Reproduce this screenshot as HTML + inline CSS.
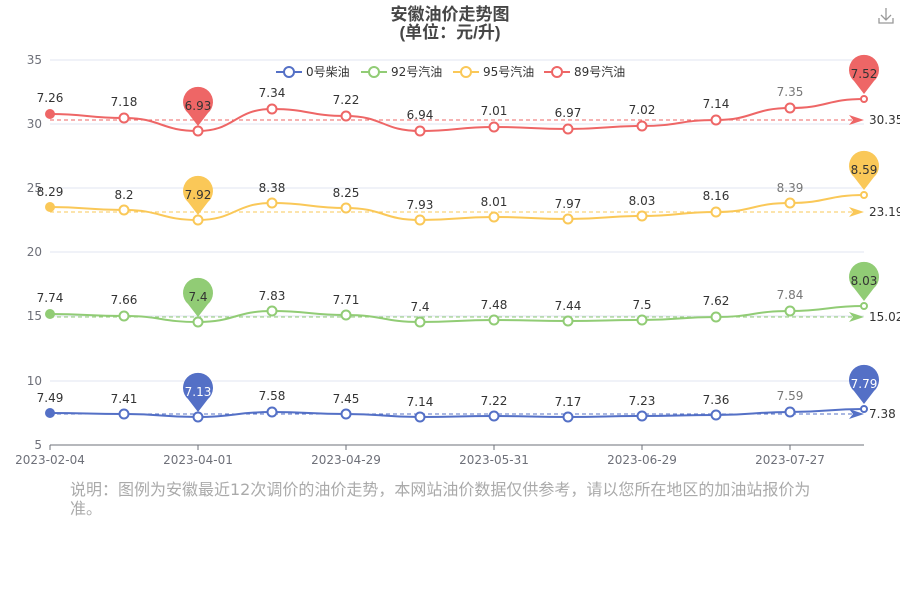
<!DOCTYPE html><html><head><meta charset="utf-8"><style>body{margin:0;background:#fff}svg{display:block;font-family:"DejaVu Sans","Noto Sans CJK SC",sans-serif}</style></head><body>
<svg width="900" height="600" viewBox="0 0 900 600">
<text x="450" y="20" text-anchor="middle" font-size="17" font-weight="bold" fill="#464646" font-family="Liberation Sans,Noto Sans CJK SC,sans-serif">安徽油价走势图</text>
<text x="450" y="38" text-anchor="middle" font-size="17" font-weight="bold" fill="#464646" font-family="Liberation Sans,Noto Sans CJK SC,sans-serif">(单位：元/升)</text>
<g stroke="#999" fill="none" stroke-width="1.3"><path d="M886 8v12M881 15l5 5 5-5M879 18v5h14v-5"/></g>
<g stroke="#e0e6f1" stroke-width="1"><line x1="50" y1="60" x2="864" y2="60"/><line x1="50" y1="124" x2="864" y2="124"/><line x1="50" y1="188" x2="864" y2="188"/><line x1="50" y1="252" x2="864" y2="252"/><line x1="50" y1="316" x2="864" y2="316"/><line x1="50" y1="381" x2="864" y2="381"/></g>
<line x1="50" y1="445" x2="864" y2="445" stroke="#6e7079"/>
<g stroke="#6e7079"><line x1="50" y1="445" x2="50" y2="450"/><line x1="198" y1="445" x2="198" y2="450"/><line x1="346" y1="445" x2="346" y2="450"/><line x1="494" y1="445" x2="494" y2="450"/><line x1="642" y1="445" x2="642" y2="450"/><line x1="790" y1="445" x2="790" y2="450"/></g>
<g font-size="12" fill="#6e7079" text-anchor="end"><text x="42" y="64">35</text><text x="42" y="128">30</text><text x="42" y="192">25</text><text x="42" y="256">20</text><text x="42" y="320">15</text><text x="42" y="385">10</text><text x="42" y="449">5</text></g>
<g font-size="12" fill="#6e7079" text-anchor="middle"><text x="50" y="464">2023-02-04</text><text x="198" y="464">2023-04-01</text><text x="346" y="464">2023-04-29</text><text x="494" y="464">2023-05-31</text><text x="642" y="464">2023-06-29</text><text x="790" y="464">2023-07-27</text></g>
<g font-size="12" fill="#333"><g stroke="#5470c6" stroke-width="2"><line x1="276" y1="72" x2="302" y2="72"/><circle cx="289" cy="72" r="5" fill="#fff"/></g><text x="306" y="76">0号柴油</text>
<g stroke="#91cc75" stroke-width="2"><line x1="361" y1="72" x2="387" y2="72"/><circle cx="374" cy="72" r="5" fill="#fff"/></g><text x="391" y="76">92号汽油</text>
<g stroke="#fac858" stroke-width="2"><line x1="453" y1="72" x2="479" y2="72"/><circle cx="466" cy="72" r="5" fill="#fff"/></g><text x="483" y="76">95号汽油</text>
<g stroke="#ee6666" stroke-width="2"><line x1="544" y1="72" x2="570" y2="72"/><circle cx="557" cy="72" r="5" fill="#fff"/></g><text x="574" y="76">89号汽油</text></g>

<!-- RED -->
<g>
<path d="M50 114 C87 114 87 118 124 118 C161 118 161 131 198 131 C235 131 235 109 272 109 C309 109 309 116 346 116 C383 116 383 131 420 131 C457 131 457 127 494 127 C531 127 531 129 568 129 C605 129 605 126 642 126 C679 126 679 120 716 120 C753 120 753 108 790 108 C827 108 827 99 864 99" fill="none" stroke="#ee6666" stroke-width="2"/>
<line x1="50" y1="120" x2="852" y2="120" stroke="#ee6666" stroke-dasharray="4 3"/>
<path d="M849 115L864 120L849 125L853 120Z" fill="#ee6666"/>
<text x="869" y="124" font-size="12" fill="#333">30.35</text>
<g fill="#fff" stroke="#ee6666" stroke-width="2"><circle cx="50" cy="114" r="4" fill="#ee6666"/><circle cx="124" cy="118" r="4.5"/><circle cx="198" cy="131" r="4.5"/><circle cx="272" cy="109" r="4.5"/><circle cx="346" cy="116" r="4.5"/><circle cx="420" cy="131" r="4.5"/><circle cx="494" cy="127" r="4.5"/><circle cx="568" cy="129" r="4.5"/><circle cx="642" cy="126" r="4.5"/><circle cx="716" cy="120" r="4.5"/><circle cx="790" cy="108" r="4.5"/><circle cx="864" cy="99" r="3"/></g>
<g font-size="12" text-anchor="middle" fill="#333"><text x="50" y="102">7.26</text><text x="124" y="106">7.18</text><text x="272" y="97">7.34</text><text x="346" y="104">7.22</text><text x="420" y="119">6.94</text><text x="494" y="115">7.01</text><text x="568" y="117">6.97</text><text x="642" y="114">7.02</text><text x="716" y="108">7.14</text><text x="790" y="96" fill="#777">7.35</text></g>
<path d="M198 126L188 113A15 15 0 1 1 208 113Z" fill="#ee6666"/><text x="198" y="110" font-size="12" text-anchor="middle" fill="#333">6.93</text>
<path d="M864 94L854 81A15 15 0 1 1 874 81Z" fill="#ee6666"/><text x="864" y="78" font-size="12" text-anchor="middle" fill="#333">7.52</text>
</g>

<!-- YELLOW -->
<g>
<path d="M50 207 C87 207 87 210 124 210 C161 210 161 220 198 220 C235 220 235 203 272 203 C309 203 309 208 346 208 C383 208 383 220 420 220 C457 220 457 217 494 217 C531 217 531 219 568 219 C605 219 605 216 642 216 C679 216 679 212 716 212 C753 212 753 203 790 203 C827 203 827 195 864 195" fill="none" stroke="#fac858" stroke-width="2"/>
<line x1="50" y1="212" x2="852" y2="212" stroke="#fac858" stroke-dasharray="4 3"/>
<path d="M849 207L864 212L849 217L853 212Z" fill="#fac858"/>
<text x="869" y="216" font-size="12" fill="#333">23.19</text>
<g fill="#fff" stroke="#fac858" stroke-width="2"><circle cx="50" cy="207" r="4" fill="#fac858"/><circle cx="124" cy="210" r="4.5"/><circle cx="198" cy="220" r="4.5"/><circle cx="272" cy="203" r="4.5"/><circle cx="346" cy="208" r="4.5"/><circle cx="420" cy="220" r="4.5"/><circle cx="494" cy="217" r="4.5"/><circle cx="568" cy="219" r="4.5"/><circle cx="642" cy="216" r="4.5"/><circle cx="716" cy="212" r="4.5"/><circle cx="790" cy="203" r="4.5"/><circle cx="864" cy="195" r="3"/></g>
<g font-size="12" text-anchor="middle" fill="#333"><text x="50" y="196">8.29</text><text x="124" y="199">8.2</text><text x="272" y="192">8.38</text><text x="346" y="197">8.25</text><text x="420" y="209">7.93</text><text x="494" y="206">8.01</text><text x="568" y="208">7.97</text><text x="642" y="205">8.03</text><text x="716" y="200">8.16</text><text x="790" y="192" fill="#777">8.39</text></g>
<path d="M198 215L188 202A15 15 0 1 1 208 202Z" fill="#fac858"/><text x="198" y="199" font-size="12" text-anchor="middle" fill="#333">7.92</text>
<path d="M864 190L854 177A15 15 0 1 1 874 177Z" fill="#fac858"/><text x="864" y="174" font-size="12" text-anchor="middle" fill="#333">8.59</text>
</g>

<!-- GREEN -->
<g>
<path d="M50 314 C87 314 87 316 124 316 C161 316 161 322 198 322 C235 322 235 311 272 311 C309 311 309 315 346 315 C383 315 383 322 420 322 C457 322 457 320 494 320 C531 320 531 321 568 321 C605 321 605 320 642 320 C679 320 679 317 716 317 C753 317 753 311 790 311 C827 311 827 306 864 306" fill="none" stroke="#91cc75" stroke-width="2"/>
<line x1="50" y1="317" x2="852" y2="317" stroke="#91cc75" stroke-dasharray="4 3"/>
<path d="M849 312L864 317L849 322L853 317Z" fill="#91cc75"/>
<text x="869" y="321" font-size="12" fill="#333">15.02</text>
<g fill="#fff" stroke="#91cc75" stroke-width="2"><circle cx="50" cy="314" r="4" fill="#91cc75"/><circle cx="124" cy="316" r="4.5"/><circle cx="198" cy="322" r="4.5"/><circle cx="272" cy="311" r="4.5"/><circle cx="346" cy="315" r="4.5"/><circle cx="420" cy="322" r="4.5"/><circle cx="494" cy="320" r="4.5"/><circle cx="568" cy="321" r="4.5"/><circle cx="642" cy="320" r="4.5"/><circle cx="716" cy="317" r="4.5"/><circle cx="790" cy="311" r="4.5"/><circle cx="864" cy="306" r="3"/></g>
<g font-size="12" text-anchor="middle" fill="#333"><text x="50" y="302">7.74</text><text x="124" y="304">7.66</text><text x="272" y="300">7.83</text><text x="346" y="304">7.71</text><text x="420" y="311">7.4</text><text x="494" y="309">7.48</text><text x="568" y="310">7.44</text><text x="642" y="309">7.5</text><text x="716" y="305">7.62</text><text x="790" y="299" fill="#777">7.84</text></g>
<path d="M198 317L188 304A15 15 0 1 1 208 304Z" fill="#91cc75"/><text x="198" y="301" font-size="12" text-anchor="middle" fill="#333">7.4</text>
<path d="M864 301L854 288A15 15 0 1 1 874 288Z" fill="#91cc75"/><text x="864" y="285" font-size="12" text-anchor="middle" fill="#333">8.03</text>
</g>

<!-- BLUE -->
<g>
<path d="M50 413 C87 413 87 414 124 414 C161 414 161 417 198 417 C235 417 235 412 272 412 C309 412 309 414 346 414 C383 414 383 417 420 417 C457 417 457 416 494 416 C531 416 531 417 568 417 C605 417 605 416 642 416 C679 416 679 415 716 415 C753 415 753 412 790 412 C827 412 827 409 864 409" fill="none" stroke="#5470c6" stroke-width="2"/>
<line x1="50" y1="414" x2="852" y2="414" stroke="#5470c6" stroke-dasharray="4 3"/>
<path d="M849 409L864 414L849 419L853 414Z" fill="#5470c6"/>
<text x="869" y="418" font-size="12" fill="#333">7.38</text>
<g fill="#fff" stroke="#5470c6" stroke-width="2"><circle cx="50" cy="413" r="4" fill="#5470c6"/><circle cx="124" cy="414" r="4.5"/><circle cx="198" cy="417" r="4.5"/><circle cx="272" cy="412" r="4.5"/><circle cx="346" cy="414" r="4.5"/><circle cx="420" cy="417" r="4.5"/><circle cx="494" cy="416" r="4.5"/><circle cx="568" cy="417" r="4.5"/><circle cx="642" cy="416" r="4.5"/><circle cx="716" cy="415" r="4.5"/><circle cx="790" cy="412" r="4.5"/><circle cx="864" cy="409" r="3"/></g>
<g font-size="12" text-anchor="middle" fill="#333"><text x="50" y="402">7.49</text><text x="124" y="403">7.41</text><text x="272" y="400">7.58</text><text x="346" y="403">7.45</text><text x="420" y="406">7.14</text><text x="494" y="405">7.22</text><text x="568" y="406">7.17</text><text x="642" y="405">7.23</text><text x="716" y="404">7.36</text><text x="790" y="400" fill="#777">7.59</text></g>
<path d="M198 412L188 399A15 15 0 1 1 208 399Z" fill="#5470c6"/><text x="198" y="396" font-size="12" text-anchor="middle" fill="#fff">7.13</text>
<path d="M864 404L854 391A15 15 0 1 1 874 391Z" fill="#5470c6"/><text x="864" y="388" font-size="12" text-anchor="middle" fill="#fff">7.79</text>
</g>

<text x="70" y="495" font-size="16" fill="#aaa">说明：图例为安徽最近12次调价的油价走势，本网站油价数据仅供参考，请以您所在地区的加油站报价为</text>
<text x="70" y="514" font-size="16" fill="#aaa">准。</text>
</svg></body></html>
